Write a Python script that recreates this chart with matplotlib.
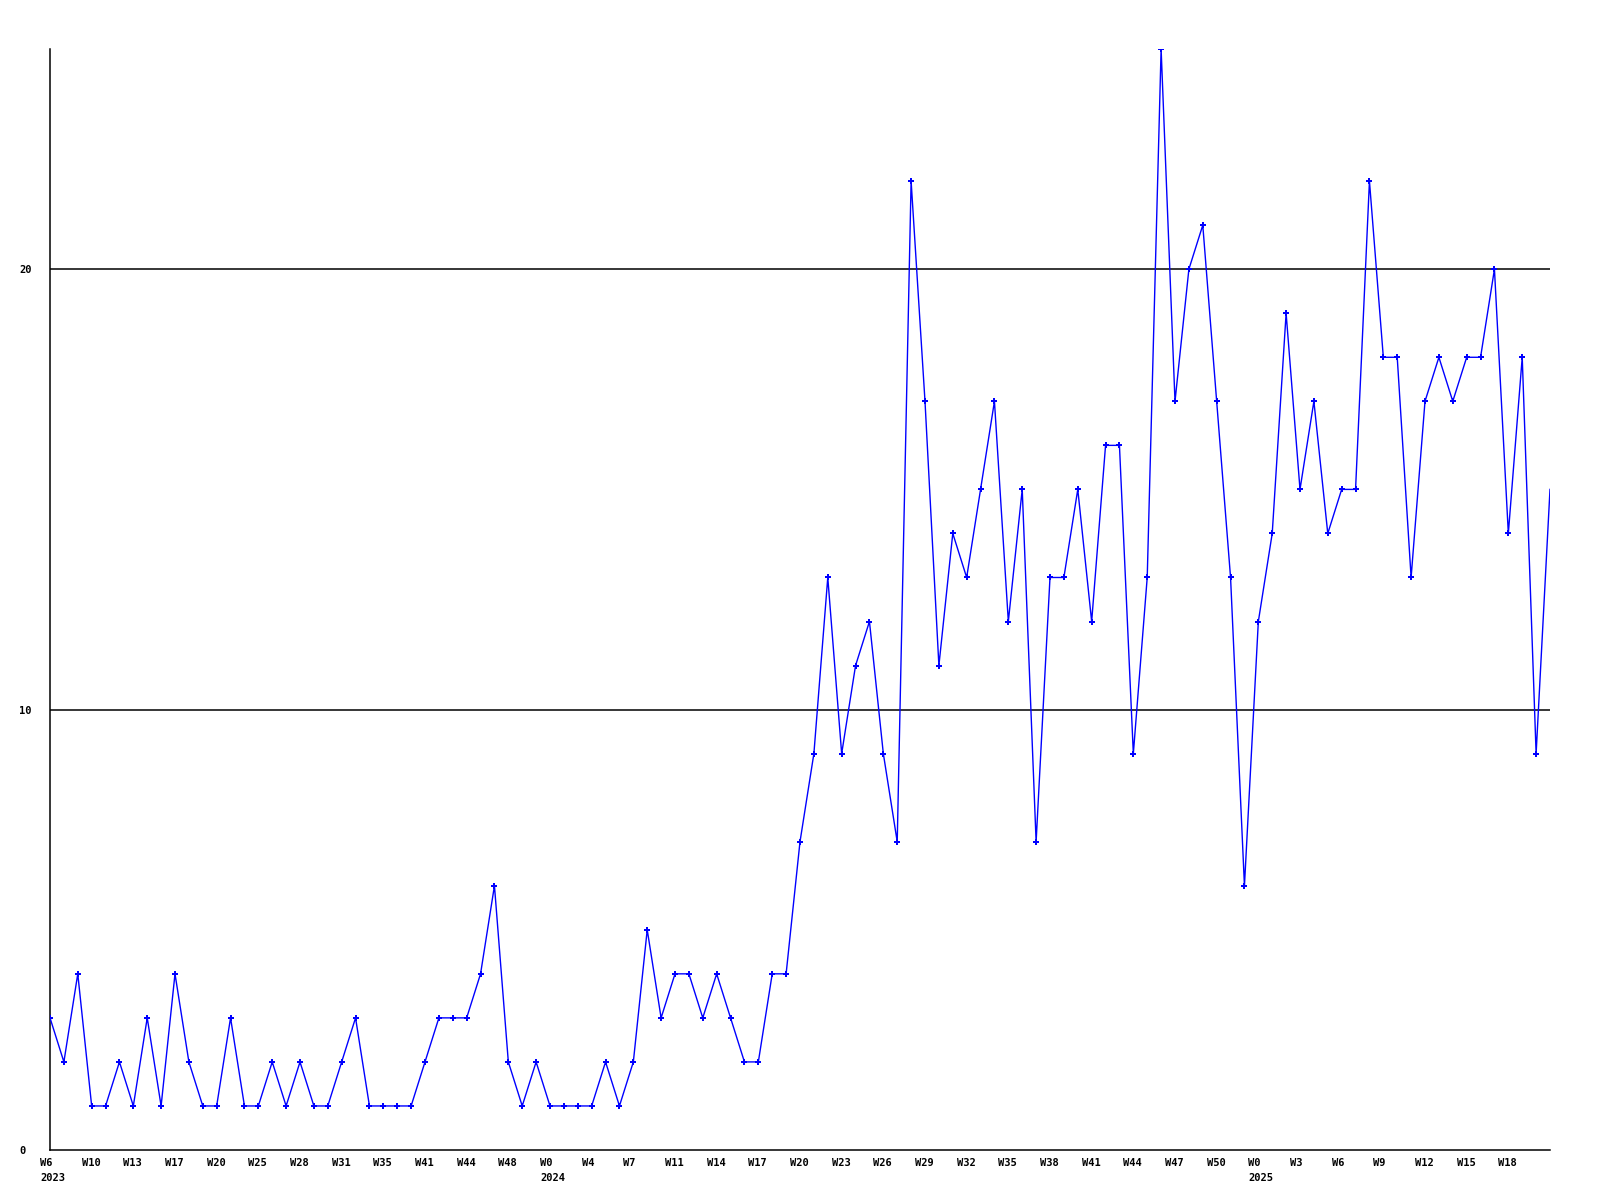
import matplotlib
matplotlib.use("Agg")
import matplotlib.pyplot as plt
import matplotlib.transforms as mtransforms

# weekly counts, one value per week starting W6 2023
values = [3, 2, 4, 1, 1, 2, 1, 3, 1, 4, 2, 1, 1, 3, 1, 1, 2, 1, 2, 1,
          1, 2, 3, 1, 1, 1, 1, 2, 3, 3, 3, 4, 6, 2, 1, 2, 1, 1, 1, 1,
          2, 1, 2, 5, 3, 4, 4, 3, 4, 3, 2, 2, 4, 4, 7, 9, 13, 9, 11, 12,
          9, 7, 22, 17, 11, 14, 13, 15, 17, 12, 15, 7, 13, 13, 15, 12, 16, 16, 9, 13,
          25, 17, 20, 21, 17, 13, 6, 12, 14, 19, 15, 17, 14, 15, 15, 22, 18, 18, 13, 17,
          18, 17, 18, 18, 20, 14, 18, 9, 15]

# x labels, one every third week
tick_labels = ["W6\n2023", "W10", "W13", "W17", "W20", "W25", "W28", "W31", "W35",
               "W41", "W44", "W48", "W0\n2024", "W4", "W7", "W11", "W14", "W17",
               "W20", "W23", "W26", "W29", "W32", "W35", "W38", "W41", "W44",
               "W47", "W50", "W0\n2025", "W3", "W6", "W9", "W12", "W15", "W18"]
y_ticks = [0, 10, 20]

font = {"family": "DejaVu Sans Mono", "weight": "bold", "size": 7.5}

fig = plt.figure(figsize=(16, 12), dpi=100)
ax = fig.add_axes([50 / 1600, 50 / 1200, 1500 / 1600, 1101 / 1200])

x = list(range(len(values)))
ax.plot(x, values, color="#0000ff", linewidth=1.0, marker="P",
        markersize=4.5, markeredgewidth=0, zorder=3,
        markevery=list(range(len(values) - 1)))

for yv in y_ticks[1:]:
    ax.axhline(yv, color="black", linewidth=1.1, zorder=1)

ax.set_xlim(0, len(values) - 1)
ax.set_ylim(0, 25)

for s in ["top", "right"]:
    ax.spines[s].set_visible(False)
for s in ["left", "bottom"]:
    ax.spines[s].set_linewidth(1.1)
    ax.spines[s].set_color("black")

ax.set_xticks([3 * i for i in range(len(tick_labels))])
ax.set_xticklabels(tick_labels, fontdict=font, ha="left", va="top",
                   linespacing=1.6)
ax.set_yticks(y_ticks)
ax.set_yticklabels([str(v) for v in y_ticks], fontdict=font, ha="left")
ax.tick_params(axis="both", length=0)
ax.tick_params(axis="x", pad=6)
ax.tick_params(axis="y", pad=22)

# shift x labels so they start a bit left of their week
offset = mtransforms.ScaledTranslation(-10 / 100, 0, fig.dpi_scale_trans)
for lab in ax.get_xticklabels():
    lab.set_transform(lab.get_transform() + offset)

fig.savefig("out.png", dpi=100, facecolor="white")
